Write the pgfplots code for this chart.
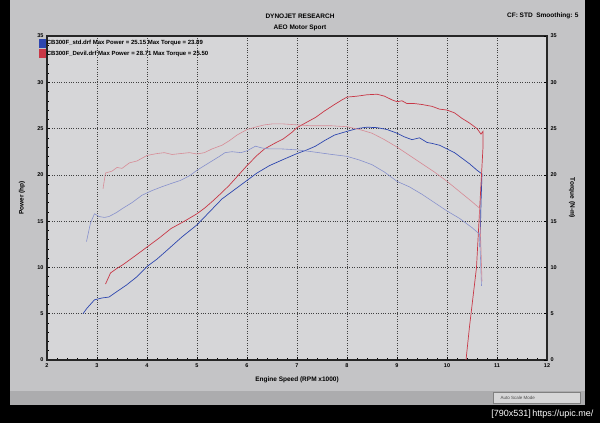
\documentclass[border=0pt]{standalone}
\usepackage{pgfplots}
\pgfplotsset{compat=1.18}
\usepackage{fontspec}
\setmainfont{Liberation Sans}
\definecolor{stdP}{RGB}{45,70,175}
\definecolor{stdT}{RGB}{135,145,205}
\definecolor{devP}{RGB}{200,55,70}
\definecolor{devT}{RGB}{215,140,150}
\definecolor{win}{RGB}{196,196,198}
\definecolor{plotbg}{RGB}{214,214,216}

\pgfplotstableread{
x y
2.72 5.0
2.80 5.6
2.95 6.5
3.10 6.7
3.24 6.8
3.40 7.4
3.59 8.1
3.80 9.0
4.00 10.1
4.20 10.9
4.41 11.9
4.70 13.3
5.00 14.6
5.25 16.0
5.50 17.4
5.75 18.4
6.00 19.4
6.20 20.2
6.45 21.0
6.70 21.6
7.00 22.3
7.20 22.7
7.37 23.1
7.55 23.7
7.75 24.3
8.00 24.7
8.20 25.0
8.40 25.15
8.60 25.1
8.80 24.9
9.00 24.5
9.15 24.1
9.30 23.8
9.45 24.0
9.60 23.5
9.70 23.4
9.85 23.2
10.00 22.8
10.15 22.4
10.30 21.8
10.45 21.2
10.60 20.5
10.70 20.1
10.68 17.0
10.66 12.2
}\stdpower

\pgfplotstableread{
x y
2.79 12.8
2.87 14.8
2.95 15.8
3.04 15.5
3.15 15.4
3.24 15.5
3.38 15.9
3.52 16.4
3.70 17.0
3.90 17.8
4.10 18.3
4.29 18.7
4.50 19.1
4.67 19.4
4.85 19.9
5.00 20.5
5.15 21.0
5.30 21.5
5.45 22.0
5.56 22.4
5.70 22.5
5.88 22.4
6.00 22.6
6.17 23.1
6.30 22.9
6.45 22.8
6.70 22.8
7.00 22.7
7.30 22.5
7.70 22.2
8.00 22.0
8.25 21.6
8.50 21.1
8.75 20.3
9.00 19.3
9.25 18.7
9.50 17.9
9.75 17.0
10.00 16.1
10.25 15.3
10.50 14.3
10.65 13.6
10.67 11.0
10.69 8.0
}\stdtorque

\pgfplotstableread{
x y
3.17 8.2
3.27 9.4
3.40 9.9
3.52 10.3
3.75 11.2
4.00 12.2
4.25 13.2
4.48 14.2
4.75 15.0
5.00 15.8
5.15 16.4
5.30 17.1
5.50 18.1
5.65 18.9
5.80 19.8
6.00 21.0
6.20 22.1
6.35 22.8
6.55 23.4
6.73 23.9
6.90 24.6
7.00 25.1
7.20 25.7
7.37 26.2
7.55 26.9
7.75 27.6
7.90 28.1
8.00 28.4
8.20 28.5
8.40 28.65
8.60 28.71
8.75 28.5
8.90 28.1
9.00 27.9
9.10 28.0
9.20 27.7
9.35 27.7
9.50 27.6
9.70 27.4
9.85 27.1
10.00 27.0
10.15 26.7
10.30 26.1
10.45 25.6
10.60 25.0
10.68 24.4
10.72 24.7
10.72 23.0
10.69 20.0
10.59 10.0
10.45 3.6
10.38 0.0
}\devpower

\pgfplotstableread{
x y
3.12 18.5
3.17 20.2
3.30 20.4
3.40 20.8
3.50 20.7
3.65 21.3
3.80 21.5
4.00 22.1
4.20 22.3
4.35 22.4
4.50 22.2
4.67 22.3
4.85 22.4
5.00 22.25
5.15 22.4
5.30 22.8
5.50 23.2
5.65 23.7
5.80 24.3
6.00 24.9
6.20 25.2
6.35 25.4
6.50 25.5
6.73 25.5
7.00 25.4
7.30 25.3
7.70 25.3
8.00 25.2
8.25 24.9
8.50 24.5
8.75 23.8
9.00 23.0
9.25 22.1
9.50 21.2
9.75 20.3
10.00 19.3
10.25 18.2
10.50 17.1
10.65 16.4
10.68 12.0
10.70 8.5
}\devtorque

\begin{document}
\begin{tikzpicture}
\fill[black] (0pt,0pt) rectangle (600pt,423pt);
\fill[win] (10pt,18pt) rectangle (585pt,423pt);
\fill[win!88!black] (10pt,18pt) rectangle (585pt,32pt);
\draw[gray, fill=win!70!white] (493pt,19.5pt) rectangle (580pt,30.5pt);
\node[font=\fontsize{4.5}{5}\selectfont, anchor=west, text=black!70] at (497pt,25pt) {Auto Scale Mode};
\node[text=white, font=\fontsize{9}{10}\selectfont, anchor=east] at (597pt,9pt) {[790x531]\,https://upic.me/};
\node[font=\fontsize{6.5}{7}\selectfont\bfseries] at (300pt,407pt) {DYNOJET RESEARCH};
\node[font=\fontsize{6.5}{7}\selectfont\bfseries] at (300pt,395pt) {AEO Motor Sport};
\node[font=\fontsize{6.5}{7}\selectfont\bfseries, anchor=east] at (582pt,407pt) {CF: STD\ \ Smoothing: 5};

\begin{axis}[
  at={(47pt,63pt)}, anchor=south west, scale only axis,
  width=500pt, height=324pt,
  xmin=2, xmax=12, ymin=0, ymax=35,
  xtick={2,...,12}, ytick={0,5,...,35},
  xtick pos=bottom, ytick pos=left,
  minor x tick num=4, minor y tick num=4,
  tick align=inside, major tick length=3pt, minor tick length=1.5pt,
  tick style={black, line width=0.5pt},
  grid=major,
  major grid style={black!75, dotted, line width=0.5pt},
  axis line style={black!85, line width=1.2pt},
  axis background/.style={fill=plotbg},
  /pgf/number format/assume math mode=true,
  ticklabel style={font=\fontsize{5.5}{6.5}\selectfont\bfseries},
  xlabel={Engine Speed (RPM x1000)},
  xlabel style={font=\fontsize{6.5}{7}\selectfont\bfseries, at={(axis description cs:0.5,-0.062)}, anchor=center},
  ylabel={Power (hp)},
  ylabel style={font=\fontsize{6.5}{7}\selectfont\bfseries, at={(axis description cs:-0.05,0.5)}, anchor=center},
  legend style={draw=none, fill=none, at={(axis description cs:-0.016,0.992)}, anchor=north west,
    font=\fontsize{6}{7}\selectfont\bfseries, inner sep=0pt, row sep=2pt, nodes={inner sep=1pt}},
  legend cell align=left,
  legend image code/.code={\fill[#1] (0pt,-4pt) rectangle (6pt,4pt);},
]
\addplot[stdP, line width=0.7pt] table {\stdpower};
\addlegendentry{CB300F\_std.drf Max Power = 25.15 Max Torque = 23.89}
\addplot[devP, line width=0.7pt] table {\devpower};
\addlegendentry{CB300F\_Devil.drf Max Power = 28.71 Max Torque = 25.50}
\addplot[stdT, line width=0.6pt, forget plot] table {\stdtorque};
\addplot[devT, line width=0.6pt, forget plot] table {\devtorque};
\end{axis}

\begin{axis}[
  at={(47pt,63pt)}, anchor=south west, scale only axis,
  width=500pt, height=324pt,
  xmin=2, xmax=12, ymin=0, ymax=35,
  hide x axis, axis y line*=right,
  ytick={0,5,...,35}, minor y tick num=4,
  tick align=inside, major tick length=3pt, minor tick length=1.5pt,
  tick style={black, line width=0.5pt},
  axis line style={black!85, line width=1.2pt},
  /pgf/number format/assume math mode=true,
  ticklabel style={font=\fontsize{5.5}{6.5}\selectfont\bfseries},
  ylabel={Torque (N-m)},
  ylabel style={font=\fontsize{6.5}{7}\selectfont\bfseries, at={(axis description cs:1.05,0.5)}, anchor=center, rotate=180},
]
\addplot[draw=none] coordinates {(2,0)};
\end{axis}
\end{tikzpicture}
\end{document}
